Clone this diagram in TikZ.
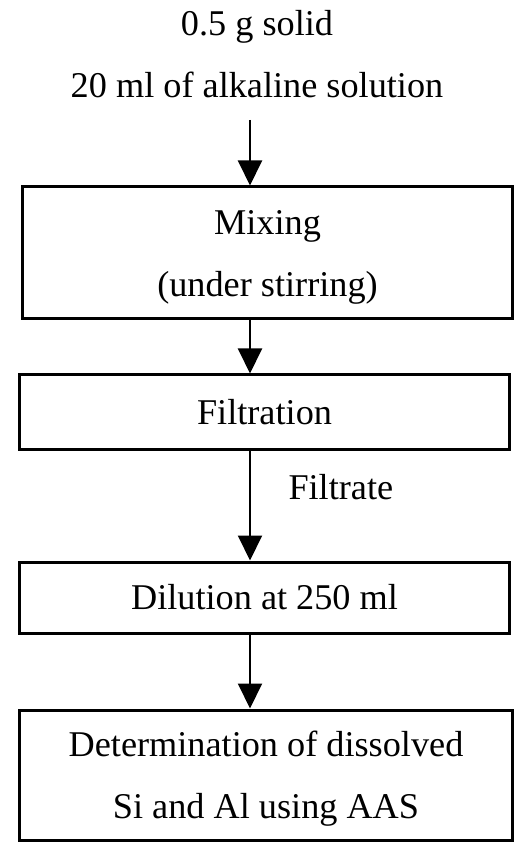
\documentclass[tikz,border=0pt]{standalone}
\IfFileExists{pplr8t.tfm}{\usepackage[T1]{fontenc}\renewcommand{\rmdefault}{ppl}\def\fsz{12.6}}
  {\usepackage{fontspec}\setmainfont{Liberation Serif}\def\fsz{14.5}}
\usetikzlibrary{arrows.meta, positioning}
\newcommand{\twolines}[3]{\raisebox{#1}{\begin{tabular}{@{}c@{}}#2\\#3\end{tabular}}}

\begin{document}
\begin{tikzpicture}[
  x=0.4pt, y=-0.4pt,
  stepbox/.style={draw, line width=1.2pt, align=center, inner sep=0pt,
                  font=\fontsize{\fsz}{24.6}\selectfont},
  txt/.style={align=center, inner sep=0pt, font=\fontsize{\fsz}{24.6}\selectfont},
  arr/.style={line width=0.8pt, -{Triangle[length=10pt, width=9.6pt]}},
]
\useasboundingbox (0,0) rectangle (527,857);

% Input
\node[txt] (input) at (257,54) {0.5 g solid\\20 ml of alkaline solution};
\coordinate (ax) at (250,0);
\coordinate (top) at (250,120);

% Steps
\node[stepbox, minimum width=195.6pt, minimum height=52.8pt] (mix) at (267.5,253)
{\twolines{-2.4pt}{Mixing}{(under stirring)}};
\node[stepbox, minimum width=195.6pt, minimum height=29.6pt] (filt) at (264.5,412)
{Filtration};
\node[stepbox, minimum width=195.6pt, minimum height=28.4pt] (dil) at (264.5,597.5)
{\raisebox{-1pt}{Dilution at 250 ml}};
\node[stepbox, minimum width=196.8pt, minimum height=52pt] (det) at (266,775)
{\twolines{-1.6pt}{Determination of dissolved}{Si and Al using AAS}};

% Arrows
\draw[arr] (top) -- (mix.north -| ax);
\draw[arr] (mix.south -| ax) -- (filt.north -| ax);
\draw[arr] (filt.south -| ax) -- (dil.north -| ax)
  node[txt, pos=0.33, right=15pt] {Filtrate};
\draw[arr] (dil.south -| ax) -- (det.north -| ax);
\end{tikzpicture}
\end{document}
